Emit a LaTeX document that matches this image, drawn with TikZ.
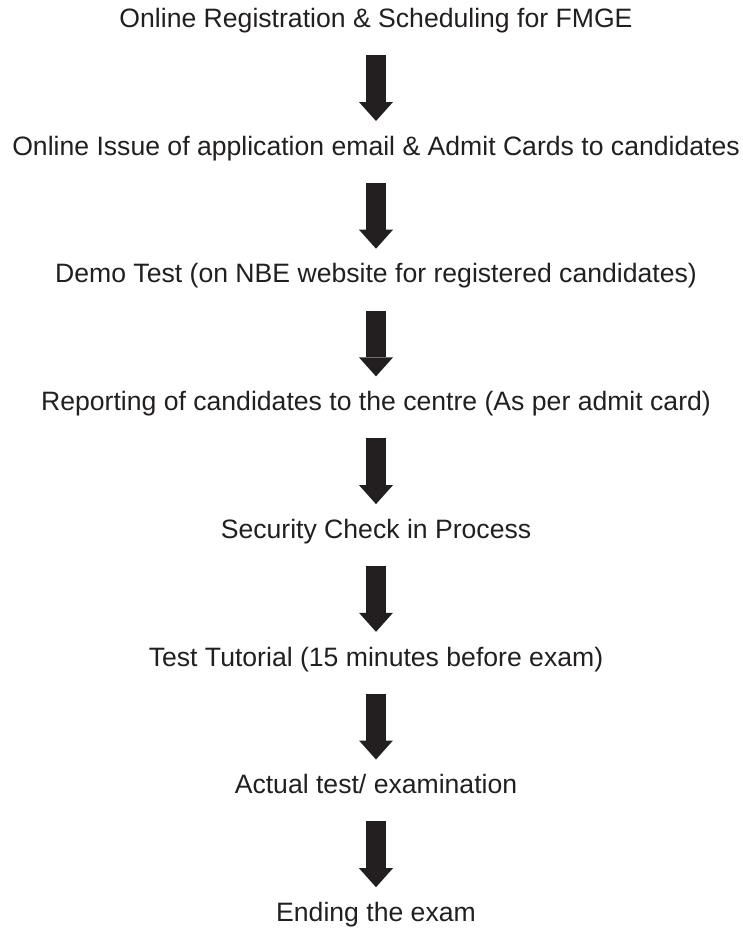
\documentclass[tikz,border=0pt]{standalone}
\usepackage{fontspec}
\setmainfont{Liberation Sans}
\usetikzlibrary{arrows.meta}
\definecolor{inkgray}{HTML}{231F20}
\tikzset{
  steptext/.style={inner sep=0pt, text height=19pt, text depth=0pt, text=inkgray,
    font=\fontsize{26.6}{32}\selectfont},
  flowarrow/.style={draw=inkgray, line width=20pt,
    -{Triangle[width=34pt, length=19pt, line width=0pt]},
    shorten <=27.5pt, shorten >=15pt},
}
\begin{document}
\begin{tikzpicture}[x=1pt, y=-1pt]
    \useasboundingbox (0,0) rectangle (743,930);

    % Schritte
    \node[steptext] (reg)    at (376,18)    {Online Registration \& Scheduling for FMGE};
    \node[steptext] (admit)  at (376,145.7) {Online Issue of application email \& Admit Cards to candidates};
    \node[steptext] (demo)   at (376,273.4) {Demo Test (on NBE website for registered candidates)};
    \node[steptext] (report) at (376,401.1) {Reporting of candidates to the centre (As per admit card)};
    \node[steptext] (check)  at (376,528.8) {Security Check in Process};
    \node[steptext] (tutor)  at (376,656.5) {Test Tutorial (15 minutes before exam)};
    \node[steptext] (exam)   at (376,784.2) {Actual test/ examination};
    \node[steptext] (ending) at (376,911.9) {Ending the exam};

    % Pfeile
    \draw[flowarrow] (reg.south) -- (admit.north);
    \draw[flowarrow] (admit.south) -- (demo.north);
    \draw[flowarrow] (demo.south) -- (report.north);
    \draw[flowarrow] (report.south) -- (check.north);
    \draw[flowarrow] (check.south) -- (tutor.north);
    \draw[flowarrow] (tutor.south) -- (exam.north);
    \draw[flowarrow] (exam.south) -- (ending.north);
\end{tikzpicture}
\end{document}
